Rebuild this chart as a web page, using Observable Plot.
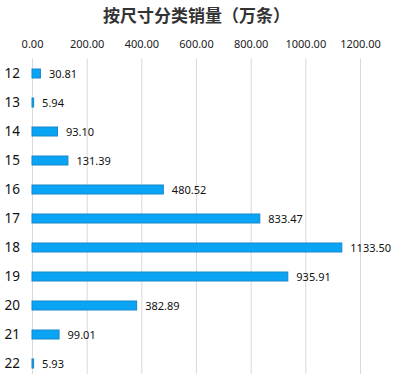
<!DOCTYPE html>
<html>
<head>
<meta charset="utf-8">
<script src="https://cdn.jsdelivr.net/npm/d3@7"></script>
<script src="https://cdn.jsdelivr.net/npm/@observablehq/plot@0.6"></script>
<style>
  html, body { margin: 0; padding: 0; background: #fff; overflow: hidden; }
  #title { height: 30px; line-height: 30px; text-align: center; font-family: "Noto Sans CJK SC", sans-serif; font-weight: bold; font-size: 17px; color: #333; width: 393px; }
</style>
</head>
<body>
<div id="title">按尺寸分类销量（万条）</div>
<div id="chart"></div>
<script>
const sizes = ["12", "13", "14", "15", "16", "17", "18", "19", "20", "21", "22"];
const sales = [30.81, 5.94, 93.10, 131.39, 480.52, 833.47, 1133.50, 935.91, 382.89, 99.01, 5.93];
const xTicks = [0, 200, 400, 600, 800, 1000, 1200];

const data = sizes.map((s, i) => ({size: s, value: sales[i]}));

const chart = Plot.plot({
  width: 393,
  height: 350,
  marginTop: 28.5,
  marginBottom: 1.5,
  marginLeft: 32,
  marginRight: 33,
  style: {fontFamily: "'Noto Sans', sans-serif", fontSize: "11px", color: "#222", background: "#fff"},
  x: {domain: [0, 1200], ticks: xTicks},
  y: {domain: sizes, padding: 0, axis: null},
  marks: [
    Plot.gridX(xTicks, {stroke: "#d9d9d9", strokeOpacity: 1}),
    Plot.axisX(xTicks, {anchor: "top", tickSize: 0, tickPadding: 11, tickFormat: d => d.toFixed(2), fontSize: 11, fill: "#222", label: null}),
    Plot.barX(data, {x: "value", y: "size", fill: "#0aa4f5", stroke: "#1787cc", strokeWidth: 1, insetTop: 10, insetBottom: 10}),
    Plot.text(data, {x: "value", y: "size", text: d => d.value.toFixed(2), textAnchor: "start", dx: 8, fontSize: 11, fill: "#111"}),
    Plot.text(data, {x: 0, y: "size", text: "size", frameAnchor: "left", textAnchor: "start", dx: -28, fontSize: 13.5, fill: "#111"})
  ]
});
document.getElementById("chart").appendChild(chart);
</script>
</body>
</html>
